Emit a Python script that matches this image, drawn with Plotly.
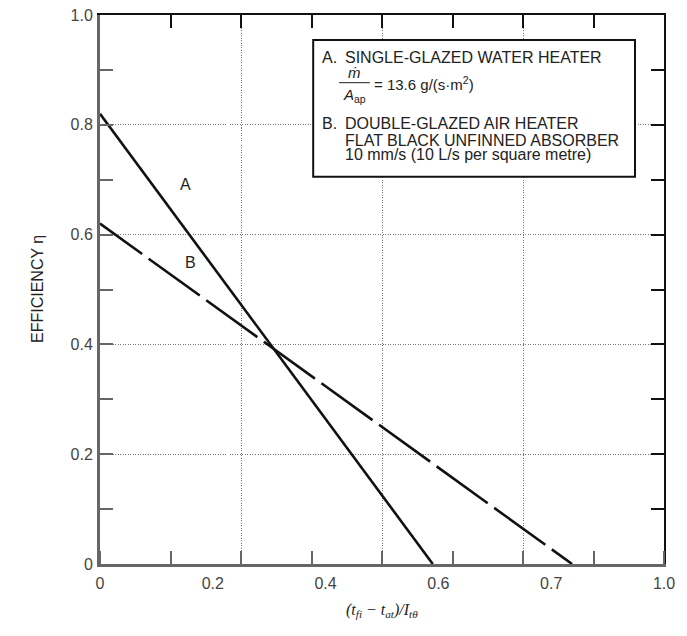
import plotly.graph_objects as go

# ---- data ----
A_X = [0.0, 0.59]
A_Y = [0.82, 0.0]
B_X = [0.0, 0.837]
B_Y = [0.62, 0.0]

X_TICK_POS = [0, 0.2, 0.4, 0.6, 0.8, 1.0]
X_TICK_TEXT = ["0", "0.2", "0.4", "0.6", "0.7", "1.0"]
Y_TICK_POS = [0, 0.2, 0.4, 0.6, 0.8, 1.0]
Y_TICK_TEXT = ["0", "0.2", "0.4", "0.6", "0.8", "1.0"]
X_GRID = [0.25, 0.5, 0.75]
Y_GRID = [0.2, 0.4, 0.6, 0.8]

SANS = "Liberation Sans, Arial, sans-serif"
SERIF = "Liberation Serif, Times New Roman, serif"
TXT = "#222"
GRAY_AX = "#666"

B_DASH = "52px,8px" + ",63px,8px" * 9

fig = go.Figure()
fig.add_trace(go.Scatter(x=A_X, y=A_Y, mode="lines",
                         line=dict(color="#111", width=2.6), showlegend=False, hoverinfo="skip"))
fig.add_trace(go.Scatter(x=B_X, y=B_Y, mode="lines",
                         line=dict(color="#111", width=2.6, dash=B_DASH), showlegend=False, hoverinfo="skip"))
# invisible traces so the mirror axes (top / right) are drawn
fig.add_trace(go.Scatter(x=[None], y=[None], xaxis="x2", yaxis="y", showlegend=False, hoverinfo="skip"))
fig.add_trace(go.Scatter(x=[None], y=[None], xaxis="x", yaxis="y2", showlegend=False, hoverinfo="skip"))

tickfont = dict(family=SANS, size=16, color="#444")

# page body has an 8px margin: size/margins compensate for it
fig.update_layout(
    width=679, height=628,
    margin=dict(l=92, r=23, t=7, b=72, autoexpand=False),
    paper_bgcolor="white", plot_bgcolor="white",
    showlegend=False,
    xaxis=dict(range=[0, 1], tickmode="array", tickvals=X_TICK_POS, ticktext=X_TICK_TEXT,
               ticks="", showgrid=False, zeroline=False, automargin=False,
               showline=True, linecolor=GRAY_AX, linewidth=3,
               tickfont=tickfont, ticklabelstandoff=3, ticklabeloverflow="allow",
               minor=dict(tickmode="linear", tick0=0, dtick=0.125, ticks="inside", ticklen=13,
                          tickcolor=GRAY_AX, tickwidth=1.5, showgrid=False)),
    xaxis2=dict(range=[0, 1], overlaying="x", side="top", anchor="y", automargin=False,
                tickmode="array", tickvals=X_GRID, showticklabels=False,
                ticks="inside", ticklen=13, tickcolor="#111", tickwidth=1.5,
                showgrid=True, gridcolor="#777", gridwidth=1, griddash="1px,1.5px",
                zeroline=False, showline=True, linecolor="#111", linewidth=2,
                minor=dict(tickmode="linear", tick0=0, dtick=0.125, ticks="inside", ticklen=13,
                           tickcolor="#111", tickwidth=1.5, showgrid=False)),
    yaxis=dict(range=[0, 1], tickmode="array", tickvals=Y_TICK_POS, ticktext=Y_TICK_TEXT,
               ticks="inside", ticklen=13, tickcolor=GRAY_AX, tickwidth=1.5,
               showgrid=False, zeroline=False, automargin=False,
               showline=True, linecolor=GRAY_AX, linewidth=3,
               tickfont=tickfont, ticklabelstandoff=1, ticklabeloverflow="allow",
               minor=dict(tickmode="linear", tick0=0, dtick=0.1, ticks="inside", ticklen=13,
                          tickcolor=GRAY_AX, tickwidth=1.5, showgrid=False)),
    yaxis2=dict(range=[0, 1], overlaying="y", side="right", anchor="x", automargin=False,
                tickmode="array", tickvals=Y_GRID, showticklabels=False,
                ticks="inside", ticklen=13, tickcolor="#111", tickwidth=1.5,
                showgrid=True, gridcolor="#777", gridwidth=1, griddash="1px,1.5px",
                zeroline=False, showline=True, linecolor="#111", linewidth=2,
                minor=dict(tickmode="linear", tick0=0, dtick=0.1, ticks="inside", ticklen=13,
                           tickcolor="#111", tickwidth=1.5, showgrid=False)),
)

# legend box
fig.add_shape(type="rect", xref="paper", yref="paper", x0=0.378, x1=0.9486, y0=0.7055, y1=0.9545,
              line=dict(color="#111", width=2), fillcolor="white", layer="above")
# fraction bar
fig.add_shape(type="line", xref="paper", yref="paper", x0=0.4238, x1=0.4787, y0=0.8767, y1=0.8767,
              line=dict(color=TXT, width=1), layer="above")

def ann(text, x, y, size=16, xanchor="left", xref="paper", yref="paper", font=SANS, angle=0):
    fig.add_annotation(text=text, x=x, y=y, xref=xref, yref=yref, showarrow=False,
                       xanchor=xanchor, yanchor="middle", textangle=angle, borderpad=0,
                       font=dict(family=font, size=size, color=TXT))

ann("A.", 0.3913, 0.9226)
ann("SINGLE-GLAZED WATER HEATER", 0.4326, 0.9226)
ann("<i>ṁ</i>", 0.4521, 0.8947, size=15, xanchor="center")
ann("<i>A</i><sub>ap</sub>", 0.4504, 0.8531, size=15, xanchor="center")
ann("= 13.6 g/(s·m<sup>2</sup>)", 0.4846, 0.8747, size=15)
ann("B.", 0.3913, 0.8015)
ann("DOUBLE-GLAZED AIR HEATER", 0.4326, 0.8015)
ann("FLAT BLACK UNFINNED ABSORBER", 0.4326, 0.7709)
ann("10 mm/s (10 L/s per square metre)", 0.4326, 0.745)

# curve labels
ann("A", 0.152, 0.692, xanchor="center", xref="x", yref="y")
ann("B", 0.1596, 0.549, xanchor="center", xref="x", yref="y")

# axis titles
ann("EFFICIENCY η", -0.1108, 0.5, xanchor="center", angle=-90)
ann("<i>(t<sub>fi</sub> − t<sub>at</sub>)/I<sub>tθ</sub></i>", 0.5, -0.0838, size=16,
    xanchor="center", font=SERIF)

fig.write_html("out.html")
